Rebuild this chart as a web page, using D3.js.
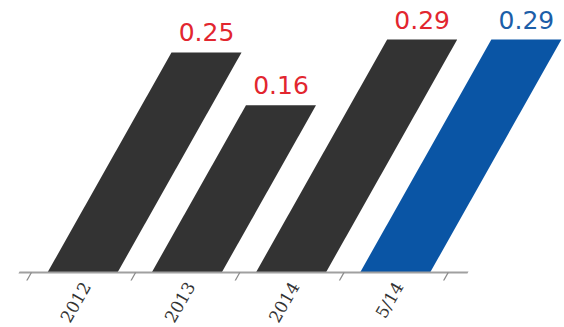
<!DOCTYPE html>
<html>
<head>
<meta charset="utf-8">
<script src="https://cdn.jsdelivr.net/npm/d3@7"></script>
<style>
  html, body { margin: 0; padding: 0; background: #fff; }
  svg { display: block; }
</style>
</head>
<body>
<svg id="chart" width="564" height="327"></svg>
<script>
// Periods, their values and the label shown above each bar
const periods = ["2012", "2013", "2014", "5/14"];
const values = [0.25, 0.16, 0.29, 0.29];
const valueLabels = ["0.25", "0.16", "0.29", "0.29"];
const highlighted = ["5/14"];

const W = 564, H = 327;
const baseY = 272.5;          // baseline of the bars
const slant = -29.4;          // skew of the whole plot, degrees

const svg = d3.select("#chart");

const x = d3.scaleBand()
  .domain(periods)
  .range([30.4, 447.2])
  .paddingInner(0.328)
  .paddingOuter(0.164);

// heights follow a reciprocal scale
const y = d3.scalePow()
  .exponent(-1)
  .domain([0.0747, 0.29])
  .range([0, 233]);

const barColor = d => highlighted.includes(d) ? "#0a55a5" : "#333333";
const textColor = d => highlighted.includes(d) ? "#1c5ea8" : "#e2262f";

// skewed plot group with origin on the baseline
const g = svg.append("g")
  .attr("transform", `translate(0,${baseY}) skewX(${slant})`);

g.selectAll("rect.bar")
  .data(periods)
  .join("rect")
  .attr("class", "bar")
  .attr("x", d => x(d))
  .attr("y", (d, i) => -y(values[i]))
  .attr("width", x.bandwidth())
  .attr("height", (d, i) => y(values[i]))
  .attr("fill", d => barColor(d));

// axis line and slanted ticks at band edges
const gap = (x.step() - x.bandwidth()) / 2;
const tickXs = periods.map(d => x(d) - gap).concat([x(periods[periods.length - 1]) + x.bandwidth() + gap]);

g.append("line")
  .attr("x1", 19).attr("x2", 468)
  .attr("y1", 0).attr("y2", 0)
  .attr("stroke", "#a0a0a0")
  .attr("stroke-width", 2);

g.selectAll("line.tick")
  .data(tickXs)
  .join("line")
  .attr("class", "tick")
  .attr("x1", d => d + 1).attr("x2", d => d + 1)
  .attr("y1", 0).attr("y2", 8)
  .attr("stroke", "#8a8a8a")
  .attr("stroke-width", 1.4);

// value labels above the top edge of each bar
const k = Math.tan(-slant * Math.PI / 180);
svg.selectAll("text.value")
  .data(periods)
  .join("text")
  .attr("class", "value")
  .attr("x", (d, i) => x(d) + x.bandwidth() / 2 + k * y(values[i]))
  .attr("y", (d, i) => baseY - y(values[i]) - 11)
  .attr("text-anchor", "middle")
  .attr("font-family", "DejaVu Sans, sans-serif")
  .attr("font-size", 25)
  .attr("fill", d => textColor(d))
  .text((d, i) => valueLabels[i]);

// rotated period labels under the axis
svg.selectAll("text.period")
  .data(periods)
  .join("text")
  .attr("class", "period")
  .attr("transform", d => `translate(${x(d) + x.bandwidth() / 2 + 4},${baseY + 11}) rotate(-60)`)
  .attr("dy", "0.35em")
  .attr("text-anchor", "end")
  .attr("font-family", "DejaVu Serif, serif")
  .attr("font-size", 17)
  .attr("fill", "#333")
  .text(d => d);
</script>
</body>
</html>
